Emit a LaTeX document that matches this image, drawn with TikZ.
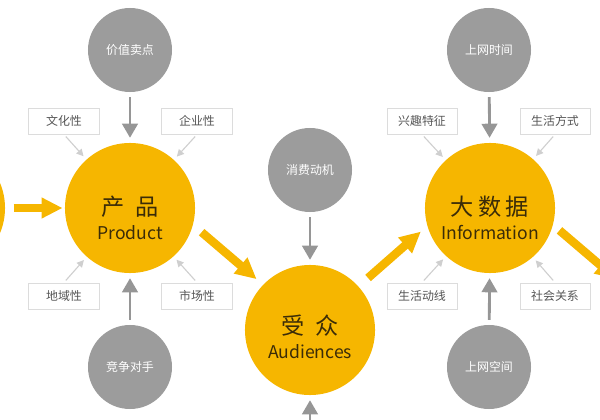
\documentclass[tikz,border=0pt]{standalone}
\usepackage{fontspec}
\setmainfont{Noto Sans CJK SC}
\usetikzlibrary{arrows.meta}
\definecolor{mkyellow}{HTML}{F6B600}
\definecolor{mkgray}{HTML}{9C9C9C}
\definecolor{mkarrow}{HTML}{969696}
\definecolor{mkhint}{HTML}{CFCFCF}
\definecolor{mkframe}{HTML}{DCDCDC}
\definecolor{mktext}{HTML}{555555}
\definecolor{mkbrown}{HTML}{3B2C08}

\begin{document}
\begin{tikzpicture}[x=0.025cm, y=-0.025cm,
  yellowdisk/.style={circle, fill=mkyellow, minimum size=3.25cm, inner sep=0pt},
  graydisk/.style={circle, fill=mkgray, minimum size=2.1cm, inner sep=0pt,
    text=white, font=\fontsize{8.5}{10}\selectfont},
  disktext/.style={align=center, text=mkbrown, inner sep=0pt},
  tagbox/.style={draw=mkframe, line width=0.7pt, minimum width=1.75cm,
    minimum height=0.65cm, inner sep=0pt, text=mktext,
    font=\fontsize{8.5}{10}\selectfont},
  flowarrow/.style={draw=mkyellow, line width=6pt,
    -{Triangle[length=15pt, width=14pt]}},
  feedarrow/.style={draw=mkarrow, line width=2pt,
    -{Triangle[length=10pt, width=11pt]}, shorten <=3.5pt, shorten >=3.5pt},
  hintarrow/.style={draw=mkhint, line width=0.8pt,
    -{Triangle[length=5pt, width=5pt]}, shorten <=2pt, shorten >=3pt}]
  \useasboundingbox (0,0) rectangle (600,420);
  \clip (0,0) rectangle (600,420);

  % main stages (yellow)
  \node[yellowdisk] (lead) at (-60,208) {};
  \node[yellowdisk] (product) at (130,208) {};
  \node[yellowdisk] (audience) at (310,330) {};
  \node[yellowdisk] (bigdata) at (490,208) {};
  \node[yellowdisk] (trail) at (670,330) {};
  \node[disktext] (producttxt) at (130,218)
    {{\fontsize{16.5}{18}\selectfont 产\hspace{8pt}品}\\[5pt]{\fontsize{12.5}{14}\selectfont Product}};
  \node[disktext] (audiencetxt) at (310,337)
    {{\fontsize{16.5}{18}\selectfont 受\hspace{8pt}众}\\[5pt]{\fontsize{12.5}{14}\selectfont Audiences}};
  \node[disktext] (bigdatatxt) at (490,218)
    {{\fontsize{16.5}{18}\selectfont 大\hspace{3pt}数\hspace{3pt}据}\\[5pt]{\fontsize{12.5}{14}\selectfont Information}};

  % driving factors (gray)
  \node[graydisk] (value) at (130,50) {价值卖点};
  \node[graydisk] (rival) at (130,367) {竞争对手};
  \node[graydisk] (motive) at (310,170) {消费动机};
  \node[graydisk] (below) at (310,489) {};
  \node[graydisk] (onlinetime) at (489,50) {上网时间};
  \node[graydisk] (onlinespace) at (489,367) {上网空间};

  % attribute tags
  \node[tagbox] (culture) at (64,121) {文化性};
  \node[tagbox] (company) at (197,121) {企业性};
  \node[tagbox] (region) at (64,296) {地域性};
  \node[tagbox] (market) at (197,296) {市场性};
  \node[tagbox] (interest) at (422,121) {兴趣特征};
  \node[tagbox] (lifestyle) at (555,121) {生活方式};
  \node[tagbox] (route) at (422,296) {生活动线};
  \node[tagbox] (social) at (555,296) {社会关系};

  % flow between stages
  \draw[flowarrow, shorten <=6pt, shorten >=1.5pt] (lead) -- (product);
  \draw[flowarrow, shorten <=8pt, shorten >=6pt] (product.-15) -- (audience.136);
  \draw[flowarrow, shorten <=9pt, shorten >=6pt] (audience.42) -- (bigdata.196);
  \draw[flowarrow, shorten <=6pt, shorten >=6pt] (bigdata.-15) -- (trail.136);

  % gray inputs
  \draw[feedarrow] (value) -- (product);
  \draw[feedarrow] (rival) -- (product);
  \draw[feedarrow] (motive) -- (audience);
  \draw[feedarrow] (below) -- (audience);
  \draw[feedarrow] (onlinetime) -- (bigdata);
  \draw[feedarrow] (onlinespace) -- (bigdata);

  % tag hints
  \draw[hintarrow] (culture.south) -- (product);
  \draw[hintarrow] (company.south) -- (product);
  \draw[hintarrow] (region.north) -- (product);
  \draw[hintarrow] (market.north) -- (product);
  \draw[hintarrow] (interest.south) -- (bigdata);
  \draw[hintarrow] (lifestyle.south) -- (bigdata);
  \draw[hintarrow] (route.north) -- (bigdata);
  \draw[hintarrow] (social.north) -- (bigdata);
\end{tikzpicture}
\end{document}
